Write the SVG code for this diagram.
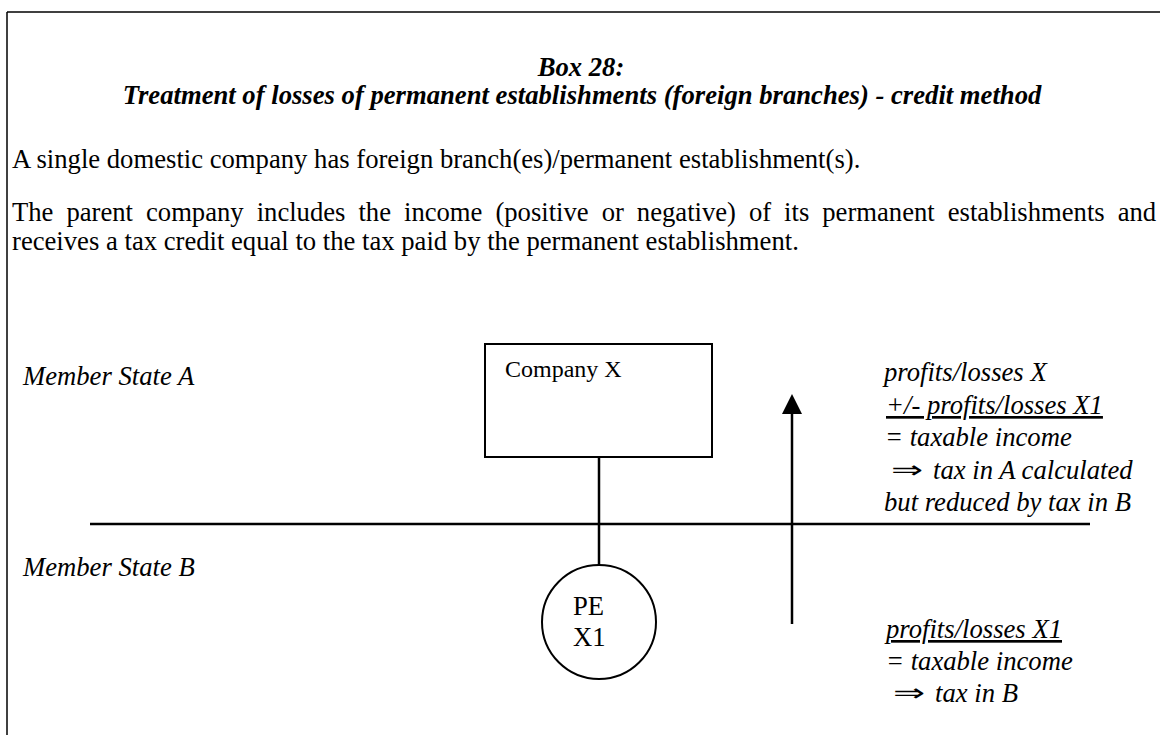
<svg xmlns="http://www.w3.org/2000/svg" width="1160" height="735" viewBox="0 0 1160 735">
<style>
text{font-family:"Liberation Serif","Times New Roman",serif;font-size:26.67px;fill:#000}
.it{font-style:italic}
.ti{font-style:italic;font-weight:bold}
.u{text-decoration:underline}
.sym{font-family:"DejaVu Sans","Liberation Serif",sans-serif;font-style:normal;font-size:24px}
.node{font-size:24px}
.ln{stroke:#000;stroke-width:2.5;fill:none}
.shape{stroke:#000;stroke-width:2;fill:#fff}
</style>
<defs>
<marker id="ah" viewBox="0 0 20 20" refX="0" refY="10" markerWidth="20" markerHeight="20" markerUnits="userSpaceOnUse" orient="auto">
<path d="M0,0 L20,10 L0,20 Z" fill="#000"/>
</marker>
</defs>
<g id="frame">
<line x1="7" y1="12" x2="1160" y2="12" stroke="#000" stroke-width="1.5"/>
<line x1="7" y1="12" x2="7" y2="735" stroke="#000" stroke-width="1.5"/>
</g>
<g id="title">
<text class="ti" x="581" y="76" text-anchor="middle">Box 28:</text>
<text class="ti" x="582" y="104" text-anchor="middle">Treatment of losses of permanent establishments (foreign branches) - credit method</text>
</g>
<g id="intro">
<text x="12" y="168">A single domestic company has foreign branch(es)/permanent establishment(s).</text>
<text x="12" y="221" word-spacing="6.3">The parent company includes the income (positive or negative) of its permanent establishments and</text>
<text x="12" y="250">receives a tax credit equal to the tax paid by the permanent establishment.</text>
</g>
<g id="state-labels">
<text class="it" x="23" y="385">Member State A</text>
<text class="it" x="23" y="576">Member State B</text>
</g>
<g id="connectors">
<line class="ln" x1="90" y1="524" x2="1090" y2="524"/>
<line class="ln" x1="599" y1="457" x2="599" y2="565"/>
<line class="ln" x1="792" y1="624" x2="792" y2="414" marker-end="url(#ah)"/>
</g>
<g id="node-company">
<rect class="shape" x="485" y="344" width="227" height="113"/>
<text class="node" x="505" y="377">Company X</text>
</g>
<g id="node-pe">
<circle class="shape" cx="599" cy="622" r="57"/>
<text x="573" y="615" font-size="25">PE</text>
<text x="573" y="646" font-size="25">X1</text>
</g>
<g id="calc-a">
<text class="it" x="884" y="381">profits/losses X</text>
<text class="it u" x="886" y="414">+/- profits/losses X1</text>
<text class="it" x="885" y="446">= taxable income</text>
<text class="sym" transform="translate(891,478) scale(1.6,1)">⇒</text>
<text class="it" x="933" y="479">tax in A calculated</text>
<text class="it" x="884" y="511">but reduced by tax in B</text>
</g>
<g id="calc-b">
<text class="it u" x="886" y="638">profits/losses X1</text>
<text class="it" x="886" y="670">= taxable income</text>
<text class="sym" transform="translate(893,701) scale(1.6,1)">⇒</text>
<text class="it" x="935" y="702">tax in B</text>
</g>
</svg>
